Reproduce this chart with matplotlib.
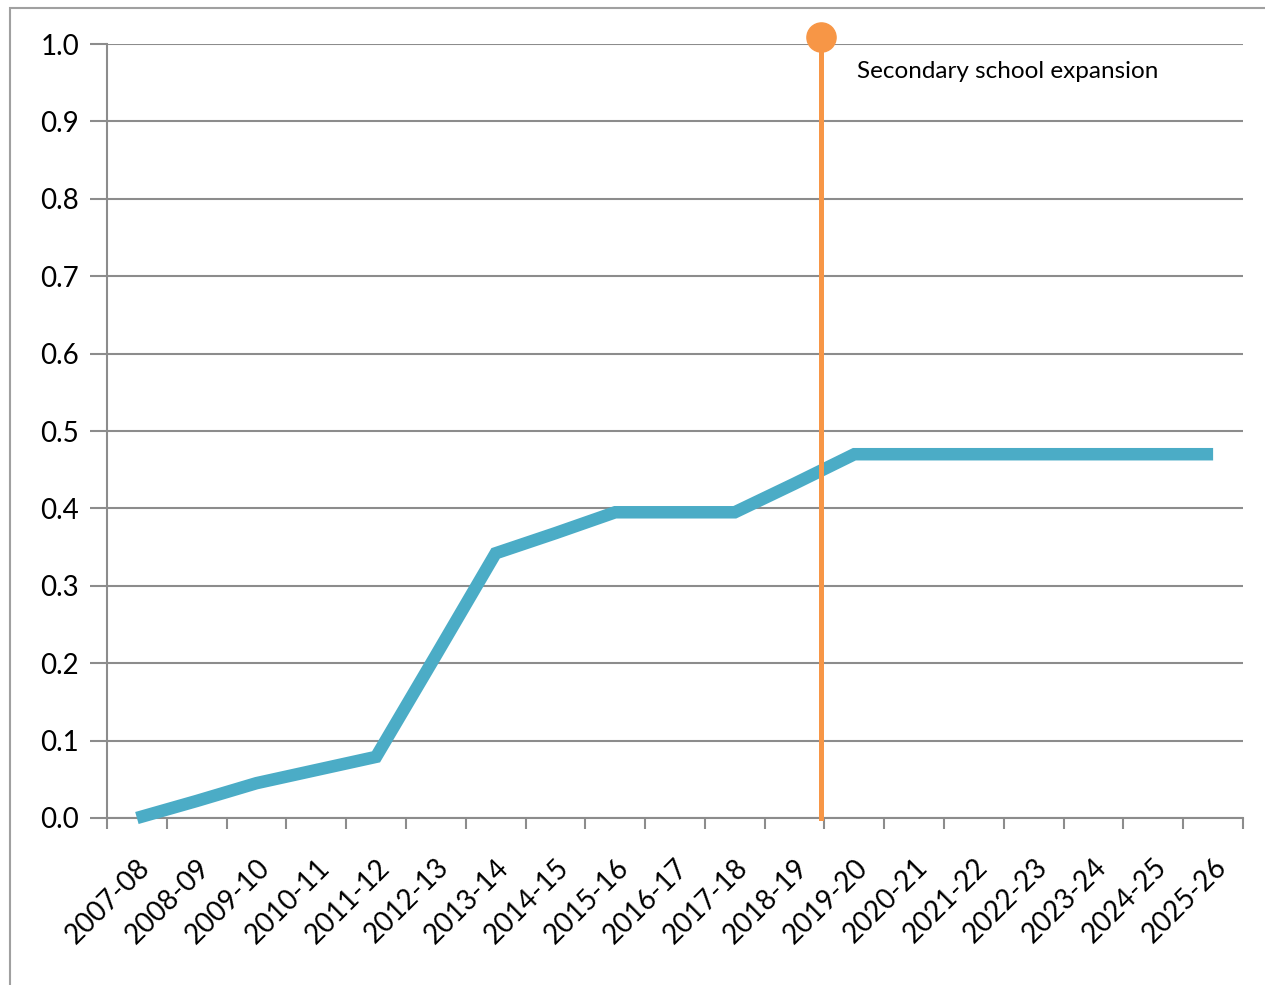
import matplotlib
matplotlib.use("Agg")
import matplotlib.pyplot as plt
from matplotlib.patches import Rectangle

# Data
years = ["2007-08", "2008-09", "2009-10", "2010-11", "2011-12", "2012-13",
         "2013-14", "2014-15", "2015-16", "2016-17", "2017-18", "2018-19",
         "2019-20", "2020-21", "2021-22", "2022-23", "2023-24", "2024-25",
         "2025-26"]
share = [0.0, 0.022, 0.045, 0.062, 0.079, 0.21, 0.342, 0.368, 0.395, 0.395,
         0.395, 0.432, 0.47, 0.47, 0.47, 0.47, 0.47, 0.47, 0.47]
yticks = [0.0, 0.1, 0.2, 0.3, 0.4, 0.5, 0.6, 0.7, 0.8, 0.9, 1.0]
event_pos = 11.45
event_label = "Secondary school expansion"

plt.rcParams['font.family'] = ['Lato', 'DejaVu Sans']

fig = plt.figure(figsize=(12.65, 9.85), dpi=100)
ax = fig.add_axes([107/1265, 1-818/985, (1243-107)/1265, (818-44)/985])

grey = "#8c8c8c"
x = list(range(len(years)))
ax.plot(x, share, color="#4BACC6", linewidth=9, solid_joinstyle="miter",
        solid_capstyle="butt", clip_on=False, zorder=3)

# event marker
ax.plot([event_pos, event_pos], [0, 1.009], color="#F79646", linewidth=3.6,
        clip_on=False, zorder=4)
ax.plot([event_pos], [1.009], "o", color="#F79646", markersize=21,
        clip_on=False, zorder=5)
ax.text(12.04, 0.964, event_label, fontsize=17.5, va="center", ha="left")

ax.set_xlim(-0.5, len(years) - 0.5)
ax.set_ylim(0, 1.0)
ax.set_yticks(yticks)
ax.set_yticklabels(["%.1f" % v for v in yticks], fontsize=20)
ax.set_xticks(x)
ax.set_xticklabels(years, rotation=45, ha="right", rotation_mode="anchor",
                   fontsize=20)
ax.set_xticks([i - 0.5 for i in range(len(years) + 1)], minor=True)
ax.tick_params(axis="x", which="major", length=0, pad=26)
ax.tick_params(axis="x", which="minor", length=8, width=1.5, color=grey,
               direction="out")
ax.tick_params(axis="y", length=12, width=1.5, color=grey, pad=8)

ax.grid(axis="y", color=grey, linewidth=1.5)
ax.set_axisbelow(True)
for s in ["top", "right"]:
    ax.spines[s].set_visible(False)
for s in ["left", "bottom"]:
    ax.spines[s].set_color(grey)
    ax.spines[s].set_linewidth(1.5)

# outer chart border
fig.add_artist(Rectangle((10/1265, -0.05), 1.0, 1 - 8/985 + 0.05,
                         transform=fig.transFigure, fill=False,
                         edgecolor="#a0a0a0", linewidth=1.5))

fig.savefig("out.png", dpi=100)
